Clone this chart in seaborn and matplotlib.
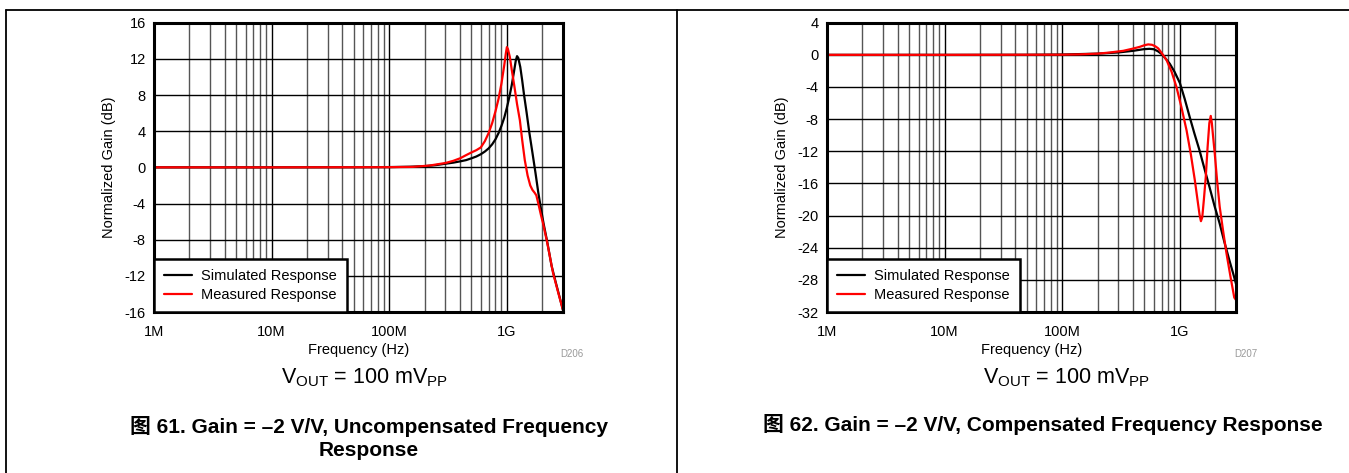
import numpy as np
import pandas as pd
import matplotlib
matplotlib.use('Agg')
import matplotlib.pyplot as plt
from matplotlib.lines import Line2D
from matplotlib.ticker import FixedLocator, LogLocator, NullFormatter
import seaborn as sns

# ---- data ----
# Figure 61: uncompensated
unc_sim_freq = [1e6, 1e7, 5e7, 1e8, 1.5e8, 2e8, 2.5e8, 3e8, 3.5e8, 4e8, 4.5e8, 5e8, 5.5e8,
                6e8, 6.5e8, 7e8, 7.5e8, 8e8, 8.5e8, 9e8, 9.5e8, 1.0e9, 1.05e9, 1.1e9,
                1.15e9, 1.19e9, 1.22e9, 1.25e9, 1.3e9, 1.35e9, 1.4e9, 1.47e9, 1.55e9,
                1.65e9, 1.75e9, 1.85e9, 1.95e9, 2.05e9, 2.2e9, 2.4e9, 2.6e9, 2.8e9, 3.0e9]
unc_sim_gain = [0, 0, 0.01, 0.03, 0.07, 0.13, 0.25, 0.4, 0.52, 0.66, 0.8, 1.0, 1.2,
                1.45, 1.75, 2.1, 2.55, 3.1, 3.8, 4.6, 5.5, 6.6, 7.8, 9.1,
                10.6, 11.8, 12.3, 12.1, 11.1, 9.6, 8.0, 6.1, 3.9,
                1.6, -0.6, -2.8, -4.6, -6.2, -8.2, -10.9, -12.7, -14.3, -15.8]
unc_meas_freq = [1e6, 1e7, 1e8, 1.58e8, 2.2e8, 3e8, 3.5e8, 4e8, 4.5e8, 5e8, 5.5e8,
                 6e8, 6.5e8, 7e8, 7.5e8, 8e8, 8.5e8, 9e8, 9.5e8, 9.8e8, 1.0e9, 1.02e9,
                 1.06e9, 1.1e9, 1.16e9, 1.22e9, 1.29e9, 1.35e9, 1.42e9, 1.5e9, 1.58e9,
                 1.65e9, 1.72e9, 1.78e9, 1.85e9, 1.95e9, 2.03e9, 2.2e9, 2.47e9, 2.75e9, 3.0e9]
unc_meas_gain = [0, 0, 0.02, 0.05, 0.2, 0.48, 0.72, 1.0, 1.35, 1.65, 1.9,
                 2.2, 2.9, 3.8, 4.9, 6.2, 7.6, 9.3, 11.3, 12.6, 13.3, 13.1,
                 12.2, 10.8, 8.9, 7.0, 5.2, 3.0, 0.8, -0.9, -2.0,
                 -2.5, -2.8, -3.1, -4.0, -5.3, -6.2, -8.3, -11.7, -14.0, -15.8]

# Figure 62: compensated
cmp_sim_freq = [1e6, 1e7, 5e7, 1e8, 2e8, 3e8, 4e8, 4.9e8, 5.5e8, 6.0e8, 6.5e8, 7.0e8,
                7.5e8, 8.2e8, 9e8, 1.0e9, 1.1e9, 1.21e9, 1.33e9, 1.47e9, 1.62e9, 1.79e9,
                1.97e9, 2.18e9, 2.4e9, 2.64e9, 2.85e9, 3.0e9]
cmp_sim_gain = [0, 0, 0.01, 0.04, 0.15, 0.3, 0.5, 0.7, 0.75, 0.7, 0.45, 0.1,
                -0.4, -1.1, -2.1, -3.5, -5.5, -7.7, -9.8, -11.9, -14.2, -16.5,
                -18.8, -21.0, -23.4, -25.6, -27.3, -28.5]
cmp_meas_freq = [1e6, 1e7, 1e8, 1.41e8, 2e8, 2.5e8, 3.3e8, 4e8, 4.57e8, 5e8, 5.38e8,
                 5.8e8, 6.2e8, 6.55e8, 7.1e8, 7.7e8, 8.5e8, 9.35e8, 1.03e9, 1.14e9,
                 1.24e9, 1.34e9, 1.42e9, 1.47e9, 1.51e9, 1.55e9, 1.6e9, 1.66e9, 1.72e9,
                 1.78e9, 1.83e9, 1.87e9, 1.92e9, 1.98e9, 2.07e9, 2.18e9, 2.33e9, 2.49e9,
                 2.7e9, 2.9e9, 3.0e9]
cmp_meas_gain = [0, 0, 0.02, 0.06, 0.15, 0.28, 0.5, 0.78, 1.0, 1.2, 1.3,
                 1.25, 1.05, 0.8, 0.1, -0.65, -2.1, -4.0, -6.5, -9.4,
                 -12.4, -15.6, -18.3, -19.9, -20.7, -20.2, -18.0, -15.2, -11.5,
                 -8.5, -7.6, -8.5, -10.3, -12.3, -15.6, -18.9, -21.9, -24.7,
                 -27.7, -30.2, -30.5]

x_ticks = [1e6, 1e7, 1e8, 1e9]
x_labels = ['1M', '10M', '100M', '1G']
unc_y_ticks = list(range(-16, 17, 4))
cmp_y_ticks = list(range(-32, 5, 4))
legend_labels = ['Simulated Response', 'Measured Response']

sns.set_style('white')
plt.rcParams['font.family'] = ['Liberation Sans', 'Noto Sans CJK SC', 'DejaVu Sans']
plt.rcParams['mathtext.fontset'] = 'custom'
plt.rcParams['mathtext.rm'] = 'Liberation Sans'
plt.rcParams['text.color'] = 'black'
plt.rcParams['axes.labelcolor'] = 'black'

W, H = 1349, 473
fig = plt.figure(figsize=(W / 100, H / 100), dpi=100)


def px_axes(x0, y0, x1, y1):
    return fig.add_axes([x0 / W, 1 - y1 / H, (x1 - x0) / W, (y1 - y0) / H])


def draw_panel(ax, sim_f, sim_g, meas_f, meas_g, yticks):
    df = pd.DataFrame({
        'freq': list(sim_f) + list(meas_f),
        'gain': list(sim_g) + list(meas_g),
        'series': [legend_labels[0]] * len(sim_f) + [legend_labels[1]] * len(meas_f),
    })
    sns.lineplot(data=df, x='freq', y='gain', hue='series', ax=ax,
                 palette={legend_labels[0]: 'black', legend_labels[1]: '#ff0000'},
                 linewidth=1.6, sort=False, estimator=None, legend=False)
    ax.set_xscale('log')
    ax.set_xlim(1e6, 3e9)
    ax.set_ylim(yticks[0], yticks[-1])
    ax.xaxis.set_major_locator(FixedLocator(x_ticks))
    ax.set_xticklabels(x_labels)
    ax.xaxis.set_minor_locator(LogLocator(base=10, subs=np.arange(2, 10)))
    ax.xaxis.set_minor_formatter(NullFormatter())
    ax.set_yticks(yticks)
    ax.set_yticklabels([str(v) for v in yticks])
    ax.grid(True, which='major', axis='both', color='#000000', linewidth=1.0)
    ax.grid(True, which='minor', axis='x', color='#555555', linewidth=1.0)
    ax.set_axisbelow(True)
    ax.tick_params(which='both', length=0, labelsize=10.5, colors='black')
    ax.tick_params(axis='x', pad=9)
    ax.tick_params(axis='y', pad=6)
    for s in ax.spines.values():
        s.set_visible(True)
        s.set_linewidth(2.2)
        s.set_color('black')
    ax.set_xlabel('Frequency (Hz)', fontsize=10.5, labelpad=3)
    ax.set_ylabel('Normalized Gain (dB)', fontsize=10.5, labelpad=6)
    handles = [Line2D([], [], color='black', lw=1.6), Line2D([], [], color='#ff0000', lw=1.6)]
    leg = ax.legend(handles, legend_labels, loc='lower left', fontsize=10.5,
                    frameon=True, fancybox=False, borderaxespad=0, handlelength=1.9,
                    borderpad=0.7, labelspacing=0.3, handletextpad=0.6)
    leg.get_frame().set_edgecolor('black')
    leg.get_frame().set_linewidth(1.8)
    leg.get_frame().set_alpha(1)


ax1 = px_axes(154, 22.7, 563, 312)
draw_panel(ax1, unc_sim_freq, unc_sim_gain, unc_meas_freq, unc_meas_gain, unc_y_ticks)
ax2 = px_axes(827, 22.7, 1236, 312)
draw_panel(ax2, cmp_sim_freq, cmp_sim_gain, cmp_meas_freq, cmp_meas_gain, cmp_y_ticks)

# outer frame
for xs, ys in [([6, W], [9.7, 9.7]), ([6, 6], [9.7, H]), ([677, 677], [9.7, H])]:
    fig.add_artist(Line2D([x / W for x in xs], [1 - y / H for y in ys],
                          color='black', lw=1.3, transform=fig.transFigure))

vout = r'$\mathregular{V_{OUT}}$ = 100 mV$\mathregular{_{PP}}$'
fig.text(365 / W, 1 - 378 / H, vout, fontsize=15.5, ha='center', va='center')
fig.text(1067 / W, 1 - 378 / H, vout, fontsize=15.5, ha='center', va='center')
fig.text(572 / W, 1 - 354 / H, 'D206', fontsize=7, color='#999999', ha='center', va='center')
fig.text(1246 / W, 1 - 354 / H, 'D207', fontsize=7, color='#999999', ha='center', va='center')

fig.text(369 / W, 1 - 438 / H, '图 61. Gain = –2 V/V, Uncompensated Frequency\nResponse',
         fontsize=15, fontweight='bold', ha='center', va='center', linespacing=1.25)
fig.text(1043 / W, 1 - 424 / H, '图 62. Gain = –2 V/V, Compensated Frequency Response',
         fontsize=15, fontweight='bold', ha='center', va='center')

fig.savefig('out.png', dpi=100)
